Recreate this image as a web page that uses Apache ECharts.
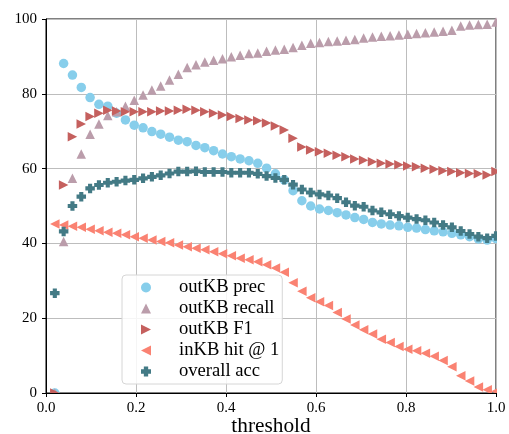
<!DOCTYPE html>
<html>
<head>
<meta charset="utf-8">
<script src="https://cdn.jsdelivr.net/npm/echarts@6/dist/echarts.min.js"></script>
<style>
html,body{margin:0;padding:0;background:#fff;}
#chart{width:509px;height:434px;}
</style>
</head>
<body>
<div id="chart"></div>
<script>
// thresholds (i/51, i = 1..51)
const thresholds = [0.0196,0.0392,0.0588,0.0784,0.0980,0.1176,0.1373,0.1569,0.1765,0.1961,
  0.2157,0.2353,0.2549,0.2745,0.2941,0.3137,0.3333,0.3529,0.3725,0.3922,
  0.4118,0.4314,0.4510,0.4706,0.4902,0.5098,0.5294,0.5490,0.5686,0.5882,
  0.6078,0.6275,0.6471,0.6667,0.6863,0.7059,0.7255,0.7451,0.7647,0.7843,
  0.8039,0.8235,0.8431,0.8627,0.8824,0.9020,0.9216,0.9412,0.9608,0.9804,1.0];

const outkbPrec = [0,88.1,85.0,81.7,79.0,77.2,76.7,74.8,73.0,71.6,
  70.9,69.9,69.2,68.4,67.6,67.2,66.2,65.6,64.8,63.9,
  63.2,62.6,62.1,61.4,60.1,58.6,57.0,54.1,51.4,50.0,
  49.2,48.8,48.2,47.6,46.9,46.4,45.6,45.2,44.9,44.7,
  44.3,44.1,43.7,43.35,43.1,42.7,42.3,41.8,41.2,40.9,41.3];

const outkbRecall = [0,40.5,57.4,63.9,69.2,71.9,74.2,75.2,76.7,78.3,
  79.7,81.0,82.1,83.7,85.2,87.0,87.8,88.5,89.0,89.4,
  89.9,90.3,90.8,90.9,91.4,91.7,91.9,92.4,93.0,93.5,
  93.7,94.0,94.1,94.3,94.5,94.9,95.2,95.4,95.5,95.7,
  95.9,96.1,96.3,96.5,96.7,97.0,98.1,98.4,98.5,98.6,99.2];

const outkbF1 = [0,55.6,68.5,71.9,73.9,74.8,75.6,75.4,75.2,75.2,
  75.2,75.2,75.4,75.4,75.6,75.9,75.6,75.2,74.8,74.3,
  73.9,73.4,73.0,72.8,72.2,71.4,70.3,68.1,65.8,65.0,
  64.5,64.1,63.6,63.2,62.6,62.2,61.8,61.4,61.2,61.0,
  60.7,60.5,60.1,59.8,59.4,59.2,58.9,58.7,58.6,58.3,59.2];

const inkbHit = [45.2,44.9,44.6,44.3,43.8,43.4,43.0,42.7,42.3,41.8,
  41.4,40.9,40.5,40.2,39.6,39.1,38.7,38.3,37.8,37.2,
  36.7,36.0,35.6,35.1,34.3,33.4,32.3,29.5,27.2,25.5,
  24.4,23.4,21.5,19.8,18.2,16.9,15.8,14.4,13.5,12.4,
  11.7,11.3,10.6,9.8,8.7,7.0,4.6,3.2,1.6,0.9,0.5];

const overallAcc = [26.7,43.2,50.0,52.5,54.7,55.6,56.2,56.5,56.8,57.0,
  57.4,57.8,58.2,58.7,59.2,59.2,59.3,59.1,59.1,59.1,
  58.9,58.9,58.9,58.6,58.0,57.5,57.0,55.7,54.4,53.6,
  53.1,52.8,52.1,51.0,50.1,49.8,48.8,48.3,47.8,47.3,
  46.9,46.5,46.2,45.6,44.9,44.3,43.3,42.5,41.8,41.4,42.0];

const seriesNames = ['outKB prec','outKB recall','outKB F1','inKB hit @ 1','overall acc'];
const seriesValues = [outkbPrec, outkbRecall, outkbF1, inkbHit, overallAcc];
const seriesColors = ['#87ceeb','#bb9dab','#c5605e','#fa8272','#437a85'];
const plusPath = 'path://M-1.3,-3H1.3V-1.3H3V1.3H1.3V3H-1.3V1.3H-3V-1.3H-1.3Z';
const rightTri = 'path://M0,0L2,1L0,2Z';
const leftTri = 'path://M2,0L0,1L2,2Z';
const seriesSymbols = ['circle','triangle',rightTri,leftTri,plusPath];

const FONT = 'Liberation Serif, Times New Roman, serif';
const W = 509, H = 434;
const GRID = {left:46, right:13, top:19, bottom:41};

const chart = echarts.init(document.getElementById('chart'), null, {renderer:'canvas', width:W, height:H});

const series = seriesNames.map((name, k) => ({
  name: name,
  type: 'scatter',
  xAxisIndex: 0,
  yAxisIndex: 0,
  symbol: seriesSymbols[k],
  symbolSize: 9.5,
  itemStyle: {color: seriesColors[k], opacity: 1},
  emphasis: {disabled: true},
  clip: false,
  data: thresholds.map((t, i) => [t, seriesValues[k][i]])
}));

const option = {
  animation: false,
  backgroundColor: '#ffffff',
  textStyle: {fontFamily: FONT},
  grid: {left: GRID.left, right: GRID.right, top: GRID.top, bottom: GRID.bottom,
         containLabel: false, outerBoundsMode: 'none',
         show: true, borderColor: '#000', borderWidth: 1, backgroundColor: 'transparent'},
  xAxis: [{
    type: 'value', min: 0, max: 1, interval: 0.2,
    name: 'threshold', nameLocation: 'middle', nameGap: 23, nameMoveOverlap: false,
    nameTextStyle: {fontFamily: FONT, fontSize: 21.3, color: '#000'},
    axisLine: {show: true, onZero: false, lineStyle: {color: '#000', width: 1}},
    axisTick: {show: true, length: 4, lineStyle: {color: '#000'}},
    axisLabel: {fontFamily: FONT, fontSize: 15, color: '#000', margin: 8,
                formatter: v => v.toFixed(1)},
    splitLine: {show: true, lineStyle: {color: '#bdbdbd', width: 1}}
  }, {
    type: 'value', min: 0, max: 1, interval: 0.2, position: 'bottom', z: 10,
    axisLine: {show: true, onZero: false, lineStyle: {color: '#000', width: 1}},
    axisTick: {show: true, length: 4, lineStyle: {color: '#000'}},
    axisLabel: {show: false}, splitLine: {show: false}
  }],
  yAxis: [{
    type: 'value', min: 0, max: 100, interval: 20,
    axisLine: {show: true, onZero: false, lineStyle: {color: '#000', width: 1}},
    axisTick: {show: true, length: 4, lineStyle: {color: '#000'}},
    axisLabel: {fontFamily: FONT, fontSize: 15, color: '#000', margin: 9},
    splitLine: {show: true, lineStyle: {color: '#bdbdbd', width: 1}}
  }],
  legend: {
    show: true, orient: 'vertical', left: 122, top: 275,
    padding: [2, 3, 2, 19], itemGap: 0, itemWidth: 10, itemHeight: 10,
    backgroundColor: 'rgba(255,255,255,0.85)', borderColor: '#d6d6d6', borderWidth: 1, borderRadius: 4,
    textStyle: {fontFamily: FONT, fontSize: 18.6, color: '#000', lineHeight: 21, padding: [0,0,0,23]},
    data: seriesNames
  },
  graphic: [
    {type: 'rect', z: 5, silent: true,
     shape: {x: W - GRID.right + 1, y: 0, width: GRID.right, height: H - GRID.bottom + 5},
     style: {fill: '#fff'}},
    {type: 'rect', z: 5, silent: true,
     shape: {x: GRID.left + 1, y: H - GRID.bottom + 1, width: W - GRID.left - GRID.right - 1, height: 4},
     style: {fill: '#fff'}}
  ],
  series: series
};
chart.setOption(option);
</script>
</body>
</html>
